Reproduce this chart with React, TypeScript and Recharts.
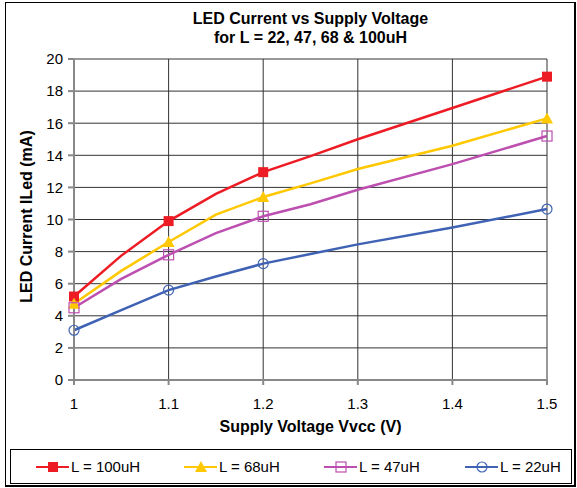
import React from 'react';
import { LineChart, Line, XAxis, YAxis, CartesianGrid } from 'recharts';

const voltages = [1, 1.05, 1.1, 1.15, 1.2, 1.25, 1.3, 1.4, 1.5];
const markedVoltages = [1, 1.1, 1.2, 1.5];

const l100 = [5.2, 7.75, 9.9, 11.6, 12.95, 13.95, 15.0, 16.95, 18.9];
const l68 = [4.75, 6.8, 8.6, 10.3, 11.4, 12.25, 13.15, 14.6, 16.3];
const l47 = [4.5, 6.3, 7.8, 9.15, 10.2, 10.95, 11.85, 13.45, 15.2];
const l22 = [3.1, 4.35, 5.6, 6.45, 7.25, 7.85, 8.45, 9.5, 10.65];

const xTicks = [1, 1.1, 1.2, 1.3, 1.4, 1.5];
const yTicks = [0, 2, 4, 6, 8, 10, 12, 14, 16, 18, 20];

const data = voltages.map((v, i) => ({
  v,
  l100: l100[i],
  l68: l68[i],
  l47: l47[i],
  l22: l22[i],
}));

const series = [
  { key: 'l100', name: 'L = 100uH', color: '#ed1c24', shape: 'square' },
  { key: 'l68', name: 'L = 68uH', color: '#ffc800', shape: 'triangle' },
  { key: 'l47', name: 'L = 47uH', color: '#bc4fb0', shape: 'hollowSquare' },
  { key: 'l22', name: 'L = 22uH', color: '#3f62b4', shape: 'circle' },
];

const legendLeft = [24, 172, 312, 453];

const font = 'Arial, "Liberation Sans", sans-serif';

const Marker = ({ shape, color, cx, cy }: { shape: string; color: string; cx: number; cy: number }) => {
  if (shape === 'square') return <rect x={cx - 5} y={cy - 5} width={10} height={10} fill={color} />;
  if (shape === 'triangle')
    return <polygon points={`${cx},${cy - 6} ${cx + 6},${cy + 5} ${cx - 6},${cy + 5}`} fill={color} />;
  if (shape === 'hollowSquare')
    return <rect x={cx - 5} y={cy - 5} width={10} height={10} fill="#fff" fillOpacity={0} stroke={color} strokeWidth={1.2} />;
  return <circle cx={cx} cy={cy} r={5} fill="none" stroke={color} strokeWidth={1.2} />;
};

const makeDot = (shape: string, color: string) => (props: any) => {
  const { cx, cy, payload, index } = props;
  if (!markedVoltages.includes(payload.v)) return <g key={`d-${index}`} />;
  return (
    <g key={`d-${index}`}>
      <Marker shape={shape} color={color} cx={cx} cy={cy} />
    </g>
  );
};

const LegendBox = () => (
  <div
    style={{
      position: 'absolute',
      left: 10,
      top: 449,
      width: 560,
      height: 33,
      border: '1px solid #000',
      fontFamily: font,
      fontSize: 15,
    }}
  >
    {series.map((s, i) => (
      <div
        key={s.key}
        style={{ position: 'absolute', left: legendLeft[i], top: 8, display: 'flex', alignItems: 'center' }}
      >
        <svg width={35} height={14}>
          <line x1={1} y1={7} x2={34} y2={7} stroke={s.color} strokeWidth={2} />
          <Marker shape={s.shape} color={s.color} cx={18} cy={7} />
        </svg>
        <span style={{ marginLeft: 1 }}>{s.name}</span>
      </div>
    ))}
  </div>
);

const YLabel = (props: any) => {
  const { viewBox } = props;
  const x = viewBox.x + 4;
  const y = viewBox.y + viewBox.height / 2 - 3;
  return (
    <text
      x={x}
      y={y}
      transform={`rotate(-90, ${x}, ${y})`}
      textAnchor="middle"
      dominantBaseline="middle"
      fontFamily={font}
      fontSize={16}
      fontWeight="bold"
      fill="#000"
    >
      LED Current ILed (mA)
    </text>
  );
};

export default function App() {
  return (
    <div
      style={{
        position: 'absolute',
        left: 0,
        top: 0,
        width: 577,
        height: 488,
        background: '#fff',
        fontFamily: font,
      }}
    >
      <div
        style={{
          position: 'absolute',
          left: 5,
          top: 2,
          width: 568,
          height: 482,
          border: '1px solid #000',
          borderRightWidth: 2,
          borderBottomWidth: 2,
        }}
      />
      <div
        style={{
          position: 'absolute',
          left: 74,
          top: 9,
          width: 473,
          textAlign: 'center',
          fontWeight: 'bold',
          fontSize: 16,
          lineHeight: '19px',
        }}
      >
        LED Current vs Supply Voltage
        <br />
        for L = 22, 47, 68 &amp; 100uH
      </div>
      <div style={{ position: 'absolute', left: 0, top: 0 }}>
        <LineChart width={577} height={445} data={data} margin={{ top: 59, right: 30, bottom: 5, left: 24 }}>
          <CartesianGrid stroke="#333" strokeWidth={1} horizontalValues={yTicks} verticalValues={xTicks} />
          <XAxis
            dataKey="v"
            type="number"
            domain={[1, 1.5]}
            ticks={xTicks}
            height={60}
            tickSize={5}
            tickMargin={13}
            stroke="#888"
            strokeWidth={2}
            tick={{ fill: '#000', fontSize: 15, fontFamily: font }}
            label={{
              value: 'Supply Voltage Vvcc (V)',
              position: 'insideTop',
              offset: 41,
              fill: '#000',
              fontSize: 16,
              fontWeight: 'bold',
              fontFamily: font,
            }}
          />
          <YAxis
            type="number"
            domain={[0, 20]}
            ticks={yTicks}
            width={50}
            tickSize={6}
            tickMargin={5}
            stroke="#888"
            strokeWidth={2}
            tick={{ fill: '#000', fontSize: 15, fontFamily: font }}
            label={<YLabel />}
          />
          {series.map((s) => (
            <Line
              key={s.key}
              dataKey={s.key}
              name={s.name}
              type="linear"
              stroke={s.color}
              strokeWidth={2.5}
              dot={makeDot(s.shape, s.color)}
              activeDot={false}
              isAnimationActive={false}
            />
          ))}
        </LineChart>
      </div>
      <LegendBox />
    </div>
  );
}
